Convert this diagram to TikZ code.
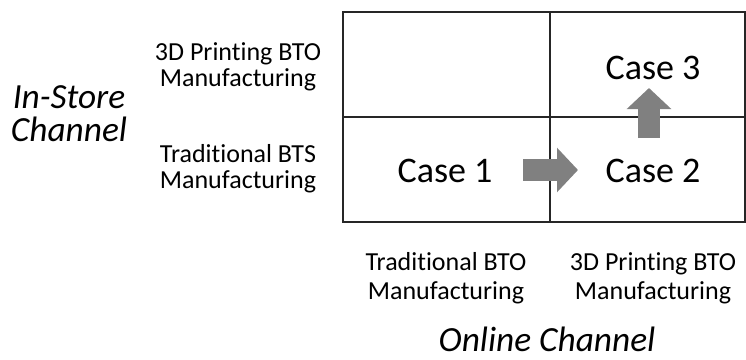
\documentclass[tikz,border=0pt]{standalone}
\usepackage{fontspec}
\setmainfont{Carlito}[Ligatures=NoCommon]
\usetikzlibrary{arrows.meta}
\begin{document}
\begin{tikzpicture}[%
  x=0.75pt,
  y=-0.75pt,
  lbl/.style={align=center, font=\fontsize{19.5}{19.5}\selectfont},
  axis/.style={align=center, font=\fontsize{26.5}{25}\selectfont\itshape},
  case/.style={font=\fontsize{27}{30}\selectfont},
  grid/.style={line width=1pt, black!85},
  blk/.style={
    gray,
    line width=16.5pt,
    -{Triangle[width=32.5pt,length=15.75pt]},}
  ]
  \useasboundingbox (0,0) rectangle (746,360);
  %% Grid
  \draw[grid] (343,12) rectangle (745,222);
  \draw[grid] (550,12) -- (550,222);
  \draw[grid] (343,117) -- (745,117);
  %% Nodes
  \node[case] (C1) at (445,171) {Case 1};
  \node[case] (C2) at (653,171) {Case 2};
  \node[case] (C3) at (653,68) {Case 3};
  \node[lbl] (SP) at (238,67) {3D Printing BTO\\Manufacturing};
  \node[lbl] (ST) at (238,169) {Traditional BTS\\Manufacturing};
  \node[axis] (SC) at (69,114) {In-Store\\Channel};
  \node[lbl, font=\fontsize{19.5}{21.75}\selectfont] (OT) at (446,278) {Traditional BTO\\Manufacturing};
  \node[lbl, font=\fontsize{19.5}{21.75}\selectfont] (OP) at (653,278) {3D Printing BTO\\Manufacturing};
  \node[axis] (OC) at (547,339) {Online Channel};
  %% Arrows
  \coordinate (R0) at (523,170);
  \coordinate (R1) at (578,170);
  \coordinate (U0) at (649,138);
  \coordinate (U1) at (649,88);
  \draw[blk] (R0) -- (R1);
  \draw[blk] (U0) -- (U1);
\end{tikzpicture}
\end{document}
